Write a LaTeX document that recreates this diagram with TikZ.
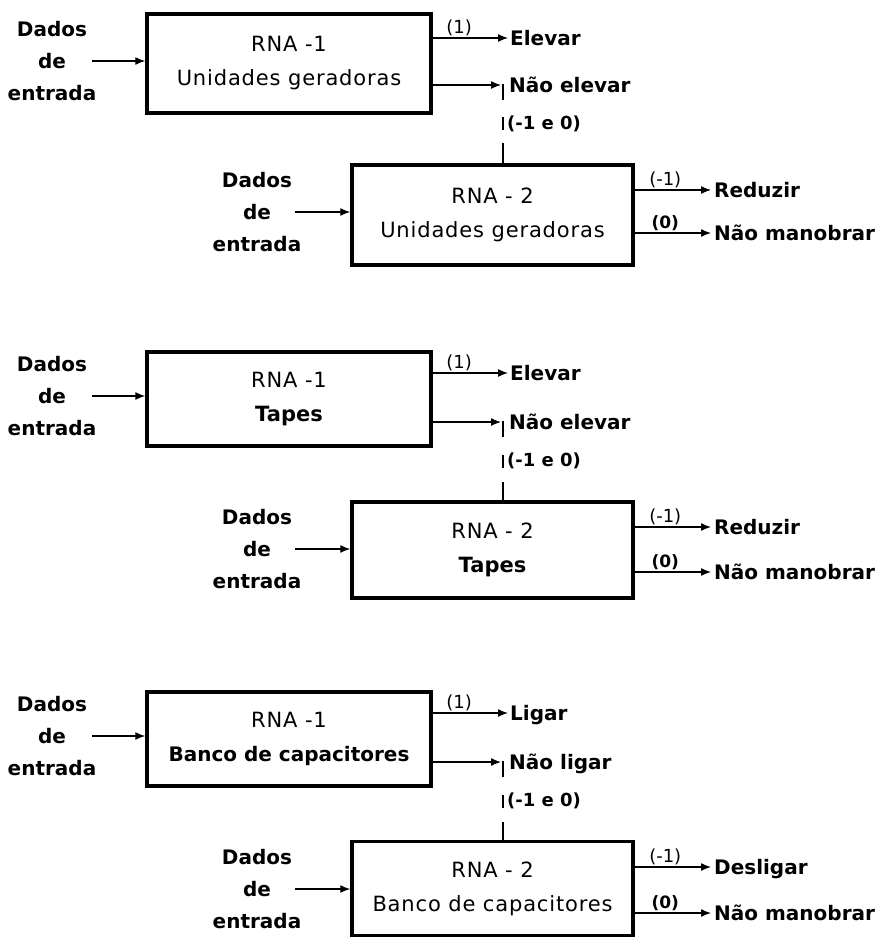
\documentclass[tikz,border=0pt]{standalone}
\usepackage{fontspec}
\usetikzlibrary{arrows.meta,calc}
\newfontfamily\lblfont{DejaVu Sans}
\newfontfamily\boxfont[LetterSpace=4]{DejaVu Sans}

\tikzset{
  unit/.style={draw, line width=3.5pt, minimum width=284pt, inner sep=0pt,
    align=center, font=\boxfont\fontsize{21}{34}\selectfont},
  unitb/.style={unit, minimum width=281pt},
  arr/.style={line width=1.3pt, -{Latex[length=10pt,width=8pt]}},
  wire/.style={line width=1.3pt},
  inlbl/.style={align=center, inner sep=0pt,
    font=\lblfont\bfseries\fontsize{20}{32}\selectfont},
  outlbl/.style={anchor=west, inner sep=0pt, text height=14.6pt, text depth=0pt,
    font=\lblfont\bfseries\fontsize{20}{24}\selectfont},
  codelbl/.style={anchor=west, inner sep=0pt, text height=13pt, text depth=0pt,
    font=\lblfont\bfseries\fontsize{18}{22}\selectfont},
  val/.style={above, inner sep=1.5pt, font=\lblfont\fontsize{18}{18}\selectfont},
  valb/.style={val, font=\lblfont\bfseries\fontsize{17}{18}\selectfont}
}

\begin{document}
\begin{tikzpicture}[x=1pt, y=-1pt]
\useasboundingbox (0,0) rectangle (881,940);

% ---------------- Unidades geradoras ----------------
\node[unit, minimum height=99pt] (b11) at (289,63.5) {RNA -1\\Unidades geradoras};
\node[unitb, minimum height=100pt] (b12) at (492.5,215) {RNA - 2\\Unidades geradoras};
\node[inlbl] (in11) at (52,61) {Dados\\de\\entrada};
\node[inlbl] (in12) at (257,212) {Dados\\de\\entrada};
\node[outlbl] (o11) at (510,38) {Elevar};
\node[outlbl] (o12) at (509,85) {Não elevar};
\coordinate (k1) at (503,85);
\node[codelbl] (c1) at (507,123) {(-1 e 0)};
\node[outlbl] (o13) at (714,190) {Reduzir};
\node[outlbl] (o14) at (714,233) {Não manobrar};

\draw[arr] ($(in11.center)+(40,0)$) -- (b11.west |- in11.center);
\draw[arr] ($(in12.center)+(38,0)$) -- (b12.west |- in12.center);
\draw[arr] (b11.east |- o11.west) -- ($(o11.west)+(-2,0)$) node[val, pos=0.35] (v11) {(1)};
\draw[arr] (b11.east |- k1) -- ($(k1)+(-2,0)$);
\draw[wire] ($(k1)+(0,-1)$) -- ($(k1)+(0,15)$);
\draw[wire] ($(k1)+(0,32)$) -- ($(k1)+(0,45)$);
\draw[wire] ($(k1)+(0,58)$) -- (b12.north -| k1);
\draw[arr] (b12.east |- o13.west) -- ($(o13.west)+(-3,0)$) node[val, pos=0.4] (v13) {(-1)};
\draw[arr] (b12.east |- o14.west) -- ($(o14.west)+(-3,0)$) node[valb, pos=0.4] (v14) {(0)};

% ---------------- Tapes ----------------
\node[unit, minimum height=94pt] (b21) at (289,399) {RNA -1\\{\lblfont\bfseries Tapes}};
\node[unitb, minimum height=96pt] (b22) at (492.5,550) {RNA - 2\\{\lblfont\bfseries Tapes}};
\node[inlbl] (in21) at (52,396) {Dados\\de\\entrada};
\node[inlbl] (in22) at (257,549) {Dados\\de\\entrada};
\node[outlbl] (o21) at (510,373) {Elevar};
\node[outlbl] (o22) at (509,422) {Não elevar};
\coordinate (k2) at (503,422);
\node[codelbl] (c2) at (507,460) {(-1 e 0)};
\node[outlbl] (o23) at (714,527) {Reduzir};
\node[outlbl] (o24) at (714,572) {Não manobrar};

\draw[arr] ($(in21.center)+(40,0)$) -- (b21.west |- in21.center);
\draw[arr] ($(in22.center)+(38,0)$) -- (b22.west |- in22.center);
\draw[arr] (b21.east |- o21.west) -- ($(o21.west)+(-2,0)$) node[val, pos=0.35] (v21) {(1)};
\draw[arr] (b21.east |- k2) -- ($(k2)+(-2,0)$);
\draw[wire] ($(k2)+(0,-1)$) -- ($(k2)+(0,15)$);
\draw[wire] ($(k2)+(0,33)$) -- ($(k2)+(0,46)$);
\draw[wire] ($(k2)+(0,60)$) -- (b22.north -| k2);
\draw[arr] (b22.east |- o23.west) -- ($(o23.west)+(-3,0)$) node[val, pos=0.4] (v23) {(-1)};
\draw[arr] (b22.east |- o24.west) -- ($(o24.west)+(-3,0)$) node[valb, pos=0.4] (v24) {(0)};

% ---------------- Banco de capacitores ----------------
\node[unit, minimum height=94pt] (b31) at (289,739) {RNA -1\\{\lblfont\bfseries\fontsize{20}{34}\selectfont Banco de capacitores}};
\node[unitb, minimum height=94pt] (b32) at (492.5,888.5) {RNA - 2\\Banco de capacitores};
\node[inlbl] (in31) at (52,736) {Dados\\de\\entrada};
\node[inlbl] (in32) at (257,889) {Dados\\de\\entrada};
\node[outlbl] (o31) at (510,713) {Ligar};
\node[outlbl] (o32) at (509,762) {Não ligar};
\coordinate (k3) at (503,762);
\node[codelbl] (c3) at (507,800) {(-1 e 0)};
\node[outlbl] (o33) at (714,867) {Desligar};
\node[outlbl] (o34) at (714,913) {Não manobrar};

\draw[arr] ($(in31.center)+(40,0)$) -- (b31.west |- in31.center);
\draw[arr] ($(in32.center)+(38,0)$) -- (b32.west |- in32.center);
\draw[arr] (b31.east |- o31.west) -- ($(o31.west)+(-2,0)$) node[val, pos=0.35] (v31) {(1)};
\draw[arr] (b31.east |- k3) -- ($(k3)+(-2,0)$);
\draw[wire] ($(k3)+(0,-1)$) -- ($(k3)+(0,15)$);
\draw[wire] ($(k3)+(0,33)$) -- ($(k3)+(0,46)$);
\draw[wire] ($(k3)+(0,60)$) -- (b32.north -| k3);
\draw[arr] (b32.east |- o33.west) -- ($(o33.west)+(-3,0)$) node[val, pos=0.4] (v33) {(-1)};
\draw[arr] (b32.east |- o34.west) -- ($(o34.west)+(-3,0)$) node[valb, pos=0.4] (v34) {(0)};
\end{tikzpicture}
\end{document}
